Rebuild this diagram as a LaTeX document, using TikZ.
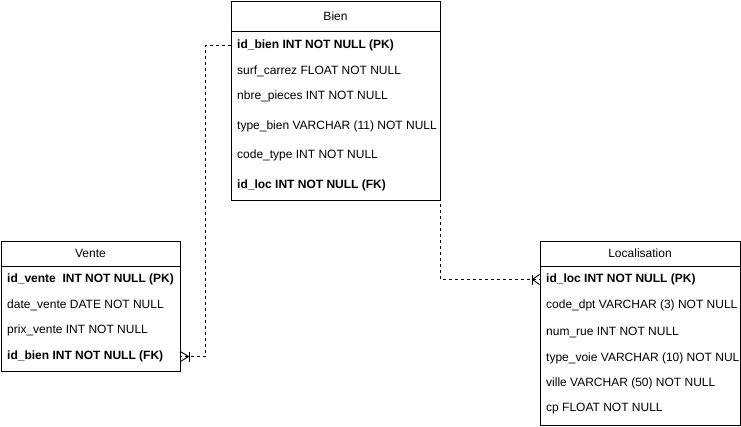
\documentclass[tikz,border=0pt]{standalone}
\usepackage{fontspec}
\setmainfont{Liberation Sans}
\begin{document}
\begin{tikzpicture}[x=1pt,y=-1pt,
  tbl/.style={draw=black, line width=1pt, rectangle, inner sep=0pt},
  ttl/.style={font=\fontsize{12pt}{14pt}\selectfont, inner sep=0pt},
  row/.style={anchor=west, inner sep=0pt, font=\fontsize{12pt}{14pt}\selectfont},
  key/.style={row, font=\fontsize{12pt}{14pt}\selectfont\bfseries},
  rel/.style={draw=black, line width=0.9pt, dash pattern=on 3pt off 3pt},
  crow/.style={draw=black, line width=0.9pt}]
\useasboundingbox (0,0) rectangle (741,426);
\clip (0,0) rectangle (741,426);

% ---------- Bien ----------
\node[tbl, minimum width=209pt, minimum height=199pt] (bien) at (335.5,100.5) {};
\draw[line width=1pt] (bien.west |- 0,31) -- (bien.east |- 0,31);
\node[ttl] (bien-t) at (335.5,16) {Bien};
\node[key] (bien-idbien) at (237,45) {id\_bien INT NOT NULL (PK)};
\node[row] (bien-surf) at (237,71) {surf\_carrez FLOAT NOT NULL};
\node[row] (bien-nbre) at (237,96) {nbre\_pieces INT NOT NULL};
\node[row] (bien-type) at (237,126) {type\_bien VARCHAR (11) NOT NULL};
\node[row] (bien-code) at (237,155) {code\_type INT NOT NULL};
\node[key] (bien-idloc) at (237,185) {id\_loc INT NOT NULL (FK)};

% ---------- Vente ----------
\node[tbl, minimum width=179pt, minimum height=130pt] (vente) at (90.5,306) {};
\draw[line width=1pt] (vente.west |- 0,266) -- (vente.east |- 0,266);
\node[ttl] (vente-t) at (90.5,253.5) {Vente};
\node[key] (vente-idvente) at (7,279.5) {id\_vente~ INT NOT NULL (PK)};
\node[row] (vente-date) at (7,305.5) {date\_vente DATE NOT NULL};
\node[row] (vente-prix) at (7,330.5) {prix\_vente INT NOT NULL};
\node[key] (vente-idbien) at (7,356.5) {id\_bien INT NOT NULL (FK)};

% ---------- Localisation ----------
\node[tbl, minimum width=200pt, minimum height=184pt] (loc) at (640,333) {};
\draw[line width=1pt] (loc.west |- 0,266) -- (loc.east |- 0,266);
\node[ttl] (loc-t) at (640,253.5) {Localisation};
\begin{scope}
\clip (541,267) rectangle (739.3,424);
\node[key] (loc-idloc) at (546,279.5) {id\_loc INT NOT NULL (PK)};
\node[row] (loc-code) at (546,305.5) {code\_dpt VARCHAR (3) NOT NULL};
\node[row] (loc-num) at (546,332) {num\_rue INT NOT NULL};
\node[row] (loc-type) at (546,358) {type\_voie VARCHAR (10) NOT NULL};
\node[row] (loc-ville) at (546,383.5) {ville VARCHAR (50) NOT NULL};
\node[row] (loc-cp) at (546,409) {cp FLOAT NOT NULL};
\end{scope}

% ---------- relation Bien -- Vente ----------
\coordinate (c1) at (205.5,0);
\draw[rel] (bien.west |- bien-idbien) -- (c1 |- bien-idbien) -- (c1 |- vente-idbien) -- (vente.east |- vente-idbien);
\coordinate (v) at (vente.east |- vente-idbien);
\draw[crow] ([yshift=-5pt]v) -- ([xshift=8pt]v) -- ([yshift=5pt]v);
\draw[crow] ([xshift=8.5pt,yshift=-5pt]v) -- ([xshift=8.5pt,yshift=5pt]v);

% ---------- relation Bien -- Localisation ----------
\coordinate (c2) at ([yshift=3pt]bien.south east);
\draw[rel] (c2) -- (c2 |- loc-idloc) -- (loc.west |- loc-idloc);
\coordinate (l) at (loc.west |- loc-idloc);
\draw[crow] ([yshift=-5pt]l) -- ([xshift=-7pt]l) -- ([yshift=5pt]l);
\draw[crow] ([xshift=-7.5pt,yshift=-5pt]l) -- ([xshift=-7.5pt,yshift=5pt]l);
\end{tikzpicture}
\end{document}
